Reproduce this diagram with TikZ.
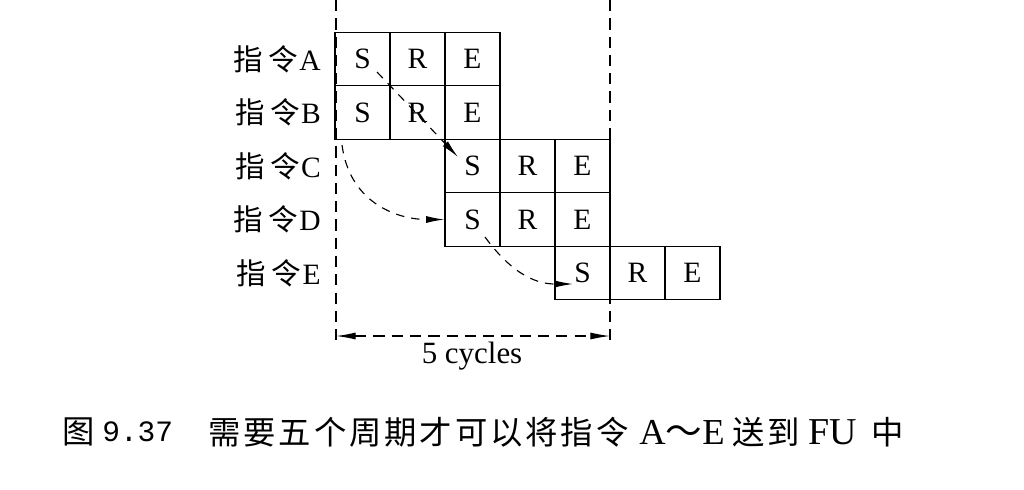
\documentclass[tikz,border=0pt]{standalone}
\usepackage{fontspec}
\setmainfont{Liberation Serif}
\setmonofont{Liberation Mono}
\newfontfamily\cjk{Noto Sans CJK SC}[LetterSpace=18]
\newfontfamily\capcjk{Noto Sans CJK SC}[LetterSpace=9]
\usetikzlibrary{arrows.meta}
\tikzset{
	cell/.style={draw, line width=0.9pt, minimum width=1.375cm, minimum height=1.335cm, inner sep=0pt, font=\fontsize{21}{24}\selectfont},
	lbl/.style={anchor=east, inner sep=0pt, font=\fontsize{21}{24}\selectfont},
	capbit/.style={anchor=west, inner sep=0pt, font=\fontsize{23}{26}\selectfont},
	guide/.style={line width=0.8pt, dash pattern=on 8pt off 5pt},
	flow/.style={line width=0.8pt, dash pattern=on 6pt off 5pt, -{Latex[length=13pt,width=5pt]}}
}

\begin{document}
\begin{tikzpicture}[x=0.025cm, y=-0.025cm]
		%%%%% START %%%%%
		\useasboundingbox (0, 0) rectangle (1024, 489);
		
		% instruction rows
		\node[lbl] (la) at (321, 59) {{\cjk 指令}\kern1pt A};
		\node[cell] (aS) at (362.5, 59) {S};
		\node[cell] (aR) at (417.5, 59) {R};
		\node[cell] (aE) at (472.5, 59) {E};
		
		\node[lbl] (lb) at (321, 112.5) {{\cjk 指令}\kern1pt B};
		\node[cell] (bS) at (362.5, 112.5) {S};
		\node[cell] (bR) at (417.5, 112.5) {R};
		\node[cell] (bE) at (472.5, 112.5) {E};
		
		\node[lbl] (lc) at (321, 166) {{\cjk 指令}\kern1pt C};
		\node[cell] (cS) at (472.5, 166) {S};
		\node[cell] (cR) at (527.5, 166) {R};
		\node[cell] (cE) at (582.5, 166) {E};
		
		\node[lbl] (ld) at (321, 219.5) {{\cjk 指令}\kern1pt D};
		\node[cell] (dS) at (472.5, 219.5) {S};
		\node[cell] (dR) at (527.5, 219.5) {R};
		\node[cell] (dE) at (582.5, 219.5) {E};
		
		\node[lbl] (le) at (321, 273) {{\cjk 指令}\kern1pt E};
		\node[cell] (eS) at (582.5, 273) {S};
		\node[cell] (eR) at (637.5, 273) {R};
		\node[cell] (eE) at (692.5, 273) {E};
		
		% cycle window
		\coordinate (lt) at (336, 0);
		\coordinate (lbt) at (336, 345);
		\coordinate (rt) at (610, 0);
		\coordinate (rbt) at (610, 345);
		\draw[guide] (lt) -- (lbt);
		\draw[guide] (rt) -- (rbt);
		
		\coordinate (dl) at (336, 336);
		\coordinate (dr) at (610, 336);
		\draw[guide, {Latex[length=14pt,width=5pt]}-{Latex[length=14pt,width=5pt]}] (dl) -- (dr);
		\node[font=\fontsize{22}{24}\selectfont] (cyc) at (472, 356) {5 cycles};
		
		% issue order
		\coordinate (p1) at (377, 72);
		\coordinate (q1) at (458, 157);
		\draw[flow] (p1) -- (q1);
		
		\coordinate (p2) at (342, 145);
		\draw[flow] (p2) .. controls (350, 205) and (400, 219.5) .. (dS.west);
		
		\coordinate (p3) at (485, 237);
		\coordinate (q3) at (573, 284);
		\draw[flow] (p3) .. controls (515, 278) and (540, 284) .. (q3);
		
		% caption
		\node[capbit] (capfig) at (62, 432) {\capcjk 图};
		\node[capbit] (capnum) at (102, 432) {\fontsize{21}{24}\selectfont\ttfamily 9.37};
		\node[capbit] (captext) at (208, 432) {\capcjk 需要五个周期才可以将指令};
		\node[capbit] (caprange) at (639, 432) {\fontsize{26}{28}\selectfont A{\capcjk ～}E};
		\node[capbit] (capto) at (732, 432) {\capcjk 送到};
		\node[capbit] (capfu) at (808, 432) {\fontsize{27}{28}\selectfont FU};
		\node[capbit] (capin) at (871, 432) {\capcjk 中};
		%%%%% END %%%%%
	\end{tikzpicture}
\end{document}
